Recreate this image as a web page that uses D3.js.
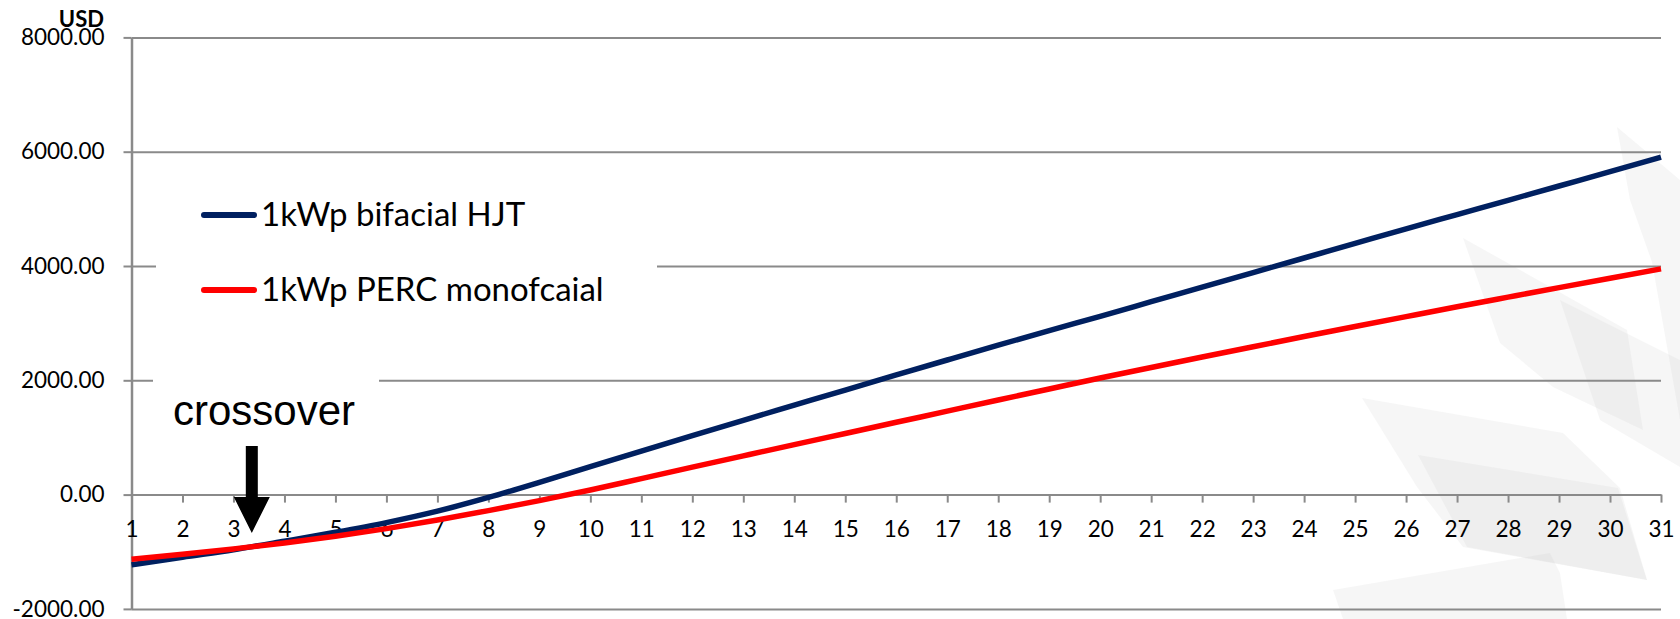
<!DOCTYPE html>
<html>
<head>
<meta charset="utf-8">
<script src="https://cdn.jsdelivr.net/npm/d3@7"></script>
<style>
  html, body { margin: 0; padding: 0; background: #fff; }
  svg { display: block; }
</style>
</head>
<body>
<svg id="chart" width="1680" height="619"></svg>
<script>
// ---- data ----
const years = d3.range(1, 32);
const yTicks = [-2000, 0, 2000, 4000, 6000, 8000];
const seriesNames = ["1kWp bifacial HJT", "1kWp PERC monofcaial"];
const seriesColors = ["#002060", "#ff0000"];
const hjt = [-1230, -1095, -965, -815, -660, -490, -290, -50, 215, 490,
             762, 1032, 1300, 1565, 1830, 2093, 2355, 2615, 2870, 3120,
             3375, 3630, 3885, 4140, 4395, 4650, 4900, 5150, 5400, 5650, 5905];
const perc = [-1130, -1045, -950, -848, -730, -595, -445, -280, -105, 80,
              280, 480, 678, 875, 1070, 1265, 1460, 1655, 1848, 2040,
              2225, 2408, 2588, 2766, 2942, 3115, 3287, 3455, 3622, 3787, 3950];
const yUnit = "USD";
const annotation = "crossover";
const crossoverYear = 3.35;

// ---- layout ----
const svg = d3.select("#chart");
const mLeft = 131.5, mRight = 1661, mTop = 37.4, mBottom = 608.9;
const x = d3.scaleLinear().domain([1, 31]).range([mLeft, mRight]);
const y = d3.scaleLinear().domain([-2000, 8000]).range([mBottom, mTop]);
const gridColor = "#8a8a8a";

// watermark (faint decorative shapes)
const wm = svg.append("g").attr("fill", "#c8c8c8").attr("fill-opacity", 0.16);
const shapes = [
  [[1617,127],[1680,180],[1680,420],[1652,262],[1630,200]],
  [[1463,238],[1627,330],[1643,430],[1553,387],[1500,343]],
  [[1560,300],[1680,360],[1680,467],[1600,420]],
  [[1362,398],[1563,433],[1620,488],[1647,580],[1463,547],[1417,487]],
  [[1418,455],[1618,488],[1647,580],[1467,547]],
  [[1333,590],[1550,553],[1560,573],[1567,619],[1343,619]]
];
shapes.forEach(s => wm.append("polygon").attr("points", s.map(p => p.join(",")).join(" ")));

// gridlines
svg.append("g")
  .attr("transform", `translate(${mLeft},0)`)
  .call(d3.axisLeft(y).tickValues(yTicks).tickSize(-(mRight - mLeft)).tickFormat(""))
  .call(g => g.select(".domain").remove())
  .call(g => g.selectAll("line").attr("stroke", gridColor).attr("stroke-width", 2));

// white boxes behind legend and annotation
svg.append("rect").attr("x", 156).attr("y", 165).attr("width", 501).attr("height", 160).attr("fill", "#fff");
svg.append("rect").attr("x", 153).attr("y", 350).attr("width", 226).attr("height", 90).attr("fill", "#fff");

// y axis
svg.append("g")
  .attr("transform", `translate(${mLeft},0)`)
  .call(d3.axisLeft(y).tickValues(yTicks).tickSize(8).tickSizeOuter(0).tickPadding(19)
        .tickFormat(d => d.toFixed(2)))
  .call(g => g.select(".domain").attr("stroke", gridColor).attr("stroke-width", 2.5))
  .call(g => g.selectAll("line").attr("stroke", gridColor).attr("stroke-width", 2))
  .call(g => g.selectAll("text").attr("font-family", "Lato").attr("font-size", 22.5).attr("fill", "#000"));

// x axis at zero
svg.append("g")
  .attr("transform", `translate(0,${y(0)})`)
  .call(d3.axisBottom(x).tickValues(years).tickSize(8).tickSizeOuter(0).tickPadding(18)
        .tickFormat(d3.format("d")))
  .call(g => g.select(".domain").attr("stroke", gridColor).attr("stroke-width", 2))
  .call(g => g.selectAll("line").attr("stroke", gridColor).attr("stroke-width", 2))
  .call(g => g.selectAll("text").attr("font-family", "Lato").attr("font-size", 22.5).attr("fill", "#000"));

// unit label
svg.append("text").attr("x", 104).attr("y", 27).attr("text-anchor", "end")
  .attr("font-family", "Lato").attr("font-weight", "bold").attr("font-size", 22)
  .text(yUnit);

// lines
const line = d3.line().x((d, i) => x(years[i])).y(d => y(d)).curve(d3.curveMonotoneX);
[hjt, perc].forEach((s, i) => {
  svg.append("path").datum(s).attr("d", line)
    .attr("fill", "none").attr("stroke", seriesColors[i]).attr("stroke-width", 5.5)
    .attr("stroke-linejoin", "round");
});

// legend
const legY = [215, 290];
seriesNames.forEach((n, i) => {
  svg.append("line").attr("x1", 204).attr("x2", 254).attr("y1", legY[i]).attr("y2", legY[i])
    .attr("stroke", seriesColors[i]).attr("stroke-width", 6).attr("stroke-linecap", "round");
  svg.append("text").attr("x", 261).attr("y", legY[i] + 11)
    .attr("font-family", "Lato").attr("font-size", 33).attr("fill", "#000").text(n);
});

// annotation
svg.append("text").attr("x", 173).attr("y", 425)
  .attr("font-family", "Liberation Sans").attr("font-size", 42).attr("fill", "#000").text(annotation);
const ax = x(crossoverYear) + 0.5;
const arrowPts = [[ax - 6, 446], [ax + 6, 446], [ax + 6, 497], [ax + 18, 497], [ax, 533],
                  [ax - 18, 497], [ax - 6, 497]];
svg.append("polygon").attr("points", arrowPts.map(p => p.join(",")).join(" ")).attr("fill", "#000");
</script>
</body>
</html>
